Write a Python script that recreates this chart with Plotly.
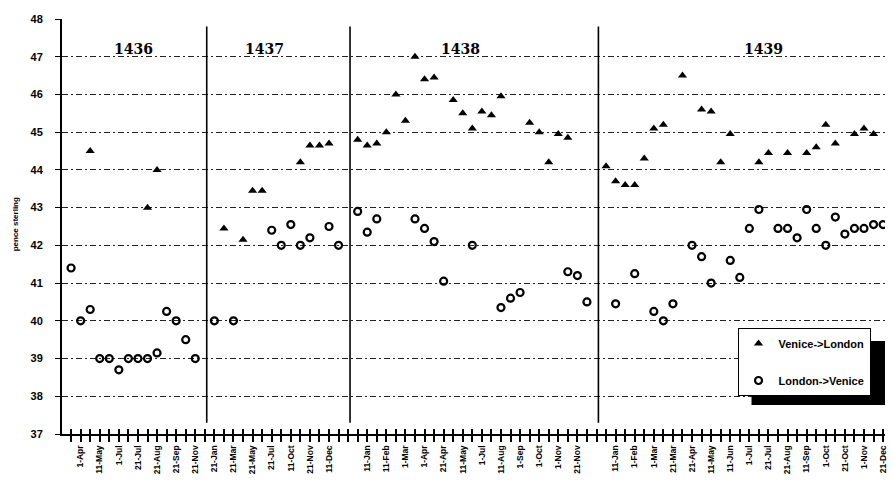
import plotly.graph_objects as go

# ---------------- data ----------------
# tick labels for each category (unlabelled categories are "")
tick_labels = [
    "", "1-Apr", "", "11-May", "", "1-Jul", "", "21-Jul", "", "21-Aug", "", "21-Sep", "", "21-Nov",
    "",
    "21-Jan", "", "21-Mar", "", "21-May", "", "21-Jul", "", "11-Oct", "", "21-Nov", "", "11-Dec", "",
    "",
    "", "11-Jan", "", "11-Feb", "", "1-Mar", "", "1-Apr", "", "21-Apr", "", "11-May", "", "1-Jul", "",
    "11-Aug", "", "1-Sep", "", "1-Oct", "", "1-Nov", "", "21-Nov", "",
    "",
    "", "11-Jan", "", "1-Feb", "", "1-Mar", "", "21-Mar", "", "21-Apr", "", "11-May", "", "11-Jun", "",
    "1-Jul", "", "21-Jul", "", "21-Aug", "", "11-Sep", "", "1-Oct", "", "21-Oct", "", "1-Nov", "", "21-Dec",
]

years = ["1436", "1437", "1438", "1439"]

venice_london = [
    None, None, 44.5, None, None, None, None, None, 43.0, 44.0, None, None, None, None,
    None,
    None, 42.45, None, 42.15, 43.45, 43.45, None, None, None, 44.2, 44.65, 44.65, 44.7, None,
    None,
    44.8, 44.65, 44.7, 45.0, 46.0, 45.3, 47.0, 46.4, 46.45, None, 45.85, 45.5, 45.1, 45.55, 45.45,
    45.95, None, None, 45.25, 45.0, 44.2, 44.95, 44.85, None, None,
    None,
    44.1, 43.7, 43.6, 43.6, 44.3, 45.1, 45.2, None, 46.5, None, 45.6, 45.55, 44.2, 44.95, None,
    None, 44.2, 44.45, None, 44.45, None, 44.45, 44.6, 45.2, 44.7, None, 44.95, 45.1, 44.95, None,
]

london_venice = [
    41.4, 40.0, 40.3, 39.0, 39.0, 38.7, 39.0, 39.0, 39.0, 39.15, 40.25, 40.0, 39.5, 39.0,
    None,
    40.0, None, 40.0, None, None, None, 42.4, 42.0, 42.55, 42.0, 42.2, None, 42.5, 42.0,
    None,
    42.9, 42.35, 42.7, None, None, None, 42.7, 42.45, 42.1, 41.05, None, None, 42.0, None, None,
    40.35, 40.6, 40.75, None, None, None, None, 41.3, 41.2, 40.5,
    None,
    None, 40.45, None, 41.25, None, 40.25, 40.0, 40.45, None, 42.0, 41.7, 41.0, None, 41.6, 41.15,
    42.45, 42.95, None, 42.45, 42.45, 42.2, 42.95, 42.45, 42.0, 42.75, 42.3, 42.45, 42.45, 42.55, 42.55,
]

# ---------------- figure ----------------
n = len(tick_labels)
idx = list(range(n))
xr = [-0.95, n - 0.8]

# blank categories separate the years
breaks = [i for i in idx if venice_london[i] is None and london_venice[i] is None]
bounds = [-1] + breaks + [n]
segments = [(bounds[k] + 1, bounds[k + 1] - 1) for k in range(len(bounds) - 1)]

BOLD = dict(family="Liberation Sans", color="black", weight="bold")

fig = go.Figure()
fig.add_trace(go.Scatter(
    x=idx, y=venice_london, mode="markers", name="Venice->London",
    legendgroup="a",
    marker=dict(symbol="triangle-up", size=8, color="black"),
))
fig.add_trace(go.Scatter(
    x=idx, y=london_venice, mode="markers", name="London->Venice",
    legendgroup="b",
    marker=dict(symbol="circle-open", size=7, color="black", line=dict(width=2.2, color="black")),
))
# helper trace for the inner half of the category tick marks
fig.add_trace(go.Scatter(x=[None], y=[None], xaxis="x2", showlegend=False, hoverinfo="skip"))

shapes = []
for b in breaks:
    shapes.append(dict(type="line", xref="x", yref="y", x0=b + 0.2, x1=b + 0.2, y0=37.3, y1=47.8,
                       line=dict(color="black", width=1.6)))
# legend shadow
shapes.append(dict(type="rect", xref="paper", yref="paper", x0=0.8378, x1=1.0, y0=0.0699, y1=0.2241,
                   fillcolor="black", line=dict(width=0), layer="above"))

annotations = []
xshifts = [0, -12, -12, 19]
for (a, b), yr, xs in zip(segments, years, xshifts):
    annotations.append(dict(x=(a + b) / 2, y=47.2, xref="x", yref="y", text=yr, showarrow=False,
                            xshift=xs, xanchor="center", yanchor="middle",
                            font=dict(family="DejaVu Serif", size=14, color="black", weight="bold")))
annotations.append(dict(x=-0.0565, y=0.504, xref="paper", yref="paper", text="pence sterling",
                        textangle=-90, showarrow=False, xanchor="center", yanchor="middle",
                        font=dict(BOLD, size=8)))

fig.update_layout(
    width=893, height=485,
    margin=dict(l=62, r=5, t=19, b=51),
    paper_bgcolor="white", plot_bgcolor="white",
    showlegend=True,
    legend=dict(x=0.8208, y=0.2554, xanchor="left", yanchor="top",
                bgcolor="white", bordercolor="black", borderwidth=1,
                traceorder="grouped", tracegroupgap=18,
                font=dict(BOLD, size=11)),
    xaxis=dict(range=xr, tickmode="array", tickvals=idx, ticktext=tick_labels,
               tickangle=-90, ticks="outside", ticklen=6, tickwidth=1.5, tickcolor="black",
               showline=True, linecolor="black", linewidth=2, showgrid=False, zeroline=False,
               tickfont=dict(BOLD, size=8.5)),
    xaxis2=dict(overlaying="x", anchor="y", side="bottom", range=xr,
                tickmode="array", tickvals=idx, ticks="inside", ticklen=5, tickwidth=1.5,
                tickcolor="black", showticklabels=False, showline=False, showgrid=False,
                zeroline=False),
    yaxis=dict(range=[37, 48], dtick=1, tick0=37, ticks="outside", ticklen=5, tickcolor="black",
               showline=True, linecolor="black", linewidth=2,
               showgrid=True, gridcolor="#222222", gridwidth=1, griddash="6px,3px,2px,3px",
               zeroline=False, ticklabelstandoff=10,
               tickfont=dict(BOLD, size=11)),
    shapes=shapes,
    annotations=annotations,
)

fig.write_html("out.html", config={"displayModeBar": False},
               post_script="document.body.style.margin='0';document.body.style.padding='0';")
